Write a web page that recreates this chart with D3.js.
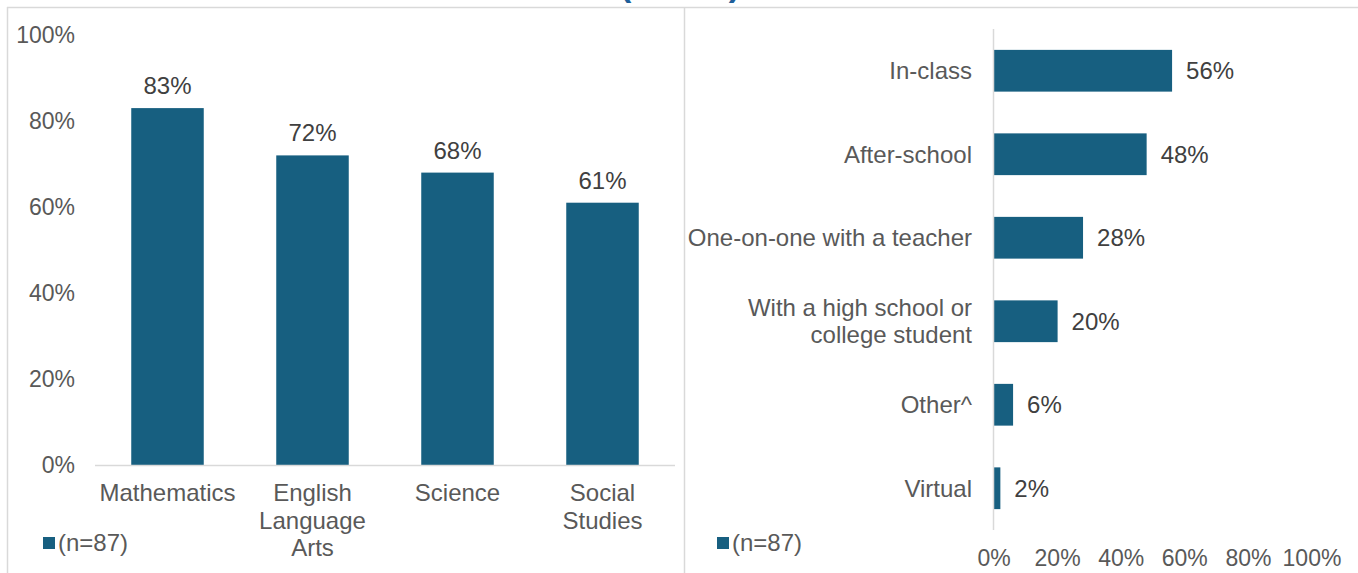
<!DOCTYPE html>
<html><head><meta charset="utf-8">
<script src="https://cdn.jsdelivr.net/npm/d3@7"></script>
<style>
html,body{margin:0;padding:0;background:#fff;}
text{font-family:"Liberation Sans",Arial,sans-serif;}
</style></head>
<body><svg id="c" width="1358" height="573"></svg>
<script>
const subjects = ["Mathematics", "English Language Arts", "Science", "Social Studies"];
const subjectValues = [83, 72, 68, 61];
const settings = ["In-class", "After-school", "One-on-one with a teacher", "With a high school or college student", "Other^", "Virtual"];
const settingValues = [56, 48, 28, 20, 6, 2];
const percentTicks = [0, 20, 40, 60, 80, 100];
const legendLabel = "(n=87)";
const titleText = "(n = 87)";

const barColor = "#175f80";
const textColor = "#595959";
const fs = 24;
const svg = d3.select("#c");

// frame lines
svg.append("line").attr("x1",7).attr("x2",1358).attr("y1",7.5).attr("y2",7.5).attr("stroke","#d9d9d9").attr("stroke-width",1.5);
svg.append("line").attr("x1",7.5).attr("x2",7.5).attr("y1",7).attr("y2",573).attr("stroke","#d9d9d9").attr("stroke-width",1.5);
svg.append("line").attr("x1",684.5).attr("x2",684.5).attr("y1",7).attr("y2",573).attr("stroke","#d9d9d9").attr("stroke-width",1.5);
// title, cut off at the top edge as in the source
svg.append("text").attr("x",680).attr("y",-4).attr("text-anchor","middle")
  .attr("font-size",34).attr("font-weight","bold").attr("fill","#1f5f9a").text(titleText);

// ---------- Left chart ----------
const x1 = d3.scaleBand().domain(subjects).range([95, 675]).paddingInner(0.5).paddingOuter(0.25);
const y1 = d3.scaleLinear().domain([0, 100]).range([465, 35]);
const gL = svg.append("g");
gL.selectAll("text.tick").data(percentTicks).join("text")
  .attr("x", 75).attr("y", d => y1(d)).attr("dy","0.35em").attr("text-anchor","end")
  .attr("font-size", fs-1).attr("fill", textColor).text(d => d + "%");
gL.selectAll("rect").data(subjects).join("rect")
  .attr("x", d => x1(d)).attr("width", x1.bandwidth())
  .attr("y", (d,i) => y1(subjectValues[i])).attr("height", (d,i) => y1(0) - y1(subjectValues[i]))
  .attr("fill", barColor);
gL.append("line").attr("x1",95).attr("x2",675).attr("y1",y1(0)+0.5).attr("y2",y1(0)+0.5).attr("stroke","#d9d9d9").attr("stroke-width",1.5);
gL.selectAll("text.val").data(subjects).join("text")
  .attr("x", d => x1(d) + x1.bandwidth()/2).attr("y", (d,i) => y1(subjectValues[i]) - 14)
  .attr("text-anchor","middle").attr("font-size", fs).attr("fill","#404040")
  .text((d,i) => subjectValues[i] + "%");
const wrapL = {"Mathematics":["Mathematics"],"English Language Arts":["English","Language","Arts"],"Science":["Science"],"Social Studies":["Social","Studies"]};
subjects.forEach(s => {
  const t = gL.append("text").attr("x", x1(s)+x1.bandwidth()/2).attr("y", 501)
    .attr("text-anchor","middle").attr("font-size", fs).attr("fill", textColor);
  wrapL[s].forEach((ln,k) => t.append("tspan").attr("x", x1(s)+x1.bandwidth()/2).attr("y", 501 + k*27.5).text(ln));
});
gL.append("rect").attr("x",43).attr("y",537).attr("width",12).attr("height",12).attr("fill",barColor);
gL.append("text").attr("x",58).attr("y",543).attr("dy","0.35em").attr("font-size",fs).attr("fill",textColor).text(legendLabel);

// ---------- Right chart ----------
const x2 = d3.scaleLinear().domain([0, 100]).range([994, 1312]);
const y2 = d3.scaleBand().domain(settings).range([29, 530]).paddingInner(0.5).paddingOuter(0.25);
const gR = svg.append("g");
gR.selectAll("rect").data(settings).join("rect")
  .attr("x", x2(0)).attr("y", d => y2(d)).attr("height", y2.bandwidth())
  .attr("width", (d,i) => x2(settingValues[i]) - x2(0)).attr("fill", barColor);
gR.append("line").attr("x1",x2(0)-0.5).attr("x2",x2(0)-0.5).attr("y1",29).attr("y2",530).attr("stroke","#d9d9d9").attr("stroke-width",1.5);
gR.selectAll("text.val").data(settings).join("text")
  .attr("x", (d,i) => x2(settingValues[i]) + 14).attr("y", d => y2(d) + y2.bandwidth()/2).attr("dy","0.35em")
  .attr("font-size", fs).attr("fill","#404040").text((d,i) => settingValues[i] + "%");
const wrapR = {"With a high school or college student":["With a high school or","college student"]};
settings.forEach(s => {
  const lines = wrapR[s] || [s];
  const cy = y2(s) + y2.bandwidth()/2;
  const t = gR.append("text").attr("text-anchor","end").attr("font-size", fs).attr("fill", textColor);
  lines.forEach((ln,k) => t.append("tspan").attr("x", 972).attr("y", cy + (k - (lines.length-1)/2)*27.5).attr("dy","0.35em").text(ln));
});
gR.selectAll("text.tick").data(percentTicks).join("text")
  .attr("x", d => x2(d)).attr("y", 558).attr("dy","0.35em").attr("text-anchor","middle")
  .attr("font-size", fs-1).attr("fill", textColor).text(d => d + "%");
gR.append("rect").attr("x",717).attr("y",537).attr("width",12).attr("height",12).attr("fill",barColor);
gR.append("text").attr("x",732).attr("y",543).attr("dy","0.35em").attr("font-size",fs).attr("fill",textColor).text(legendLabel);
</script></body></html>
